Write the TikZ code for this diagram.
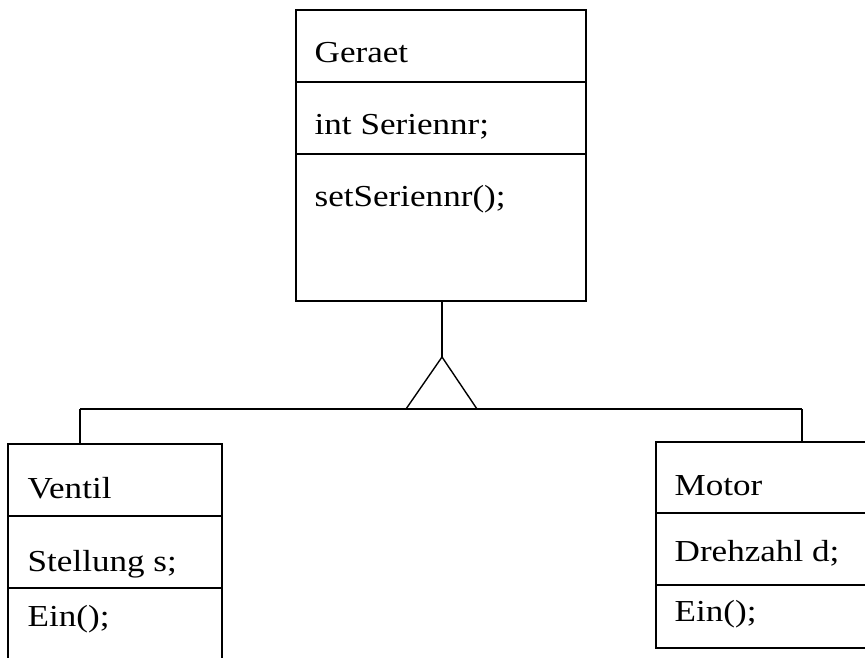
\documentclass[tikz,border=0pt]{standalone}
\usepackage{fontspec}
\setmainfont{Liberation Serif}[FakeStretch=1.15]
\begin{document}
\begin{tikzpicture}[x=1pt,y=-1pt,
  line width=1.4pt,
  cls/.style={draw, rectangle, inner sep=0pt},
  lbl/.style={anchor=base west, inner sep=0pt, font=\fontsize{30.5}{36}\selectfont},
  sep/.style={line width=1.2pt}]
\useasboundingbox (0,0) rectangle (865,658);
\clip (0,0) rectangle (865,658);
% Geraet
\node[cls, minimum width=290pt, minimum height=291pt] (ger) at (441,155.5) {};
\draw[sep] (296,82) -- (586,82);
\draw[sep] (296,154) -- (586,154);
\node[lbl] (gert) at (314,63) {Geraet};
\node[lbl] (gera) at (314,135) {int Seriennr;};
\node[lbl] (germ) at (314,206) {setSeriennr();};
% Ventil
\node[cls, minimum width=214pt, minimum height=240pt] (ven) at (115,564) {};
\draw[sep] (8,516) -- (222,516);
\draw[sep] (8,588) -- (222,588);
\node[lbl] (vent) at (27,498) {Ventil};
\node[lbl] (vena) at (27,571) {Stellung s;};
\node[lbl] (venm) at (27,626) {Ein();};
% Motor
\node[cls, minimum width=214pt, minimum height=206pt] (mot) at (763,545) {};
\draw[sep] (656,513) -- (870,513);
\draw[sep] (656,585) -- (870,585);
\node[lbl] (mott) at (674,495) {Motor};
\node[lbl] (mota) at (674,561) {Drehzahl d;};
\node[lbl] (motm) at (674,621) {Ein();};
% generalization
\coordinate (apex) at (442,357);
\coordinate (bl) at (406,409);
\coordinate (br) at (477,409);
\coordinate (hl) at (80,409);
\coordinate (hr) at (802,409);
\draw (ger.south -| apex) -- (apex);
\draw[line join=miter] (bl) -- (apex) -- (br);
\draw (hl) -- (hr);
\draw (hl) -- (hl |- ven.north);
\draw (hr) -- (hr |- mot.north);
\end{tikzpicture}
\end{document}
